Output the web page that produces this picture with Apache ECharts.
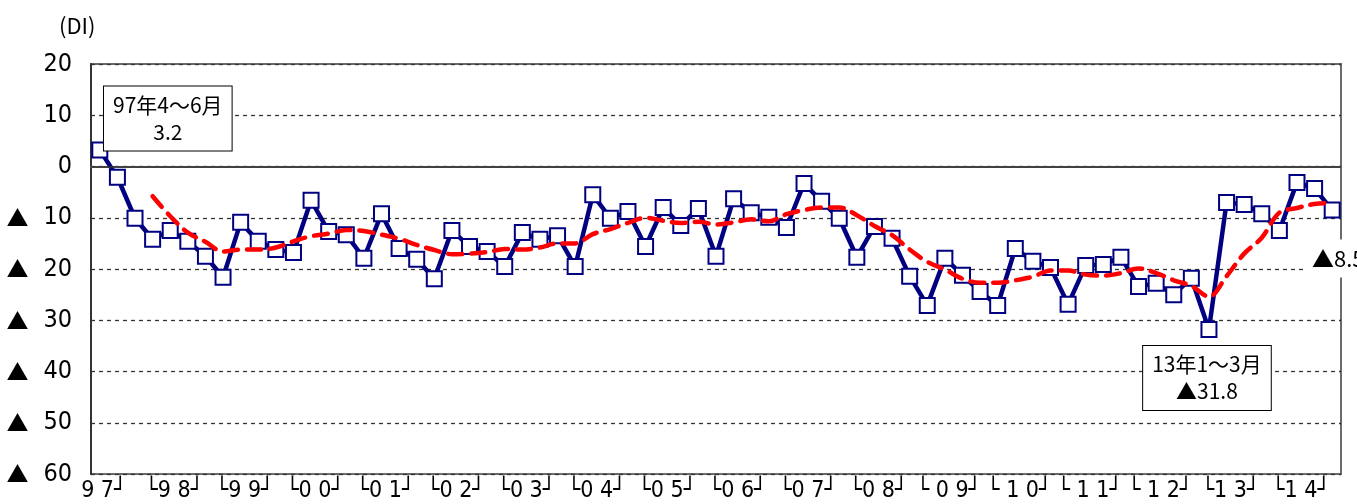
<!DOCTYPE html>
<html>
<head>
<meta charset="utf-8">
<script src="https://cdn.jsdelivr.net/npm/echarts@6/dist/echarts.min.js"></script>
<style>
  html, body { margin: 0; padding: 0; background: #fff; }
  #chart { width: 1357px; height: 504px; }
</style>
</head>
<body>
<div id="chart"></div>
<script>
// years on the axis, 97 starts at Apr-Jun
var years = ['97', '98', '99', '00', '01', '02', '03', '04', '05', '06', '07', '08', '09', '10', '11', '12', '13', '14'];
var yearLabels = ['9 7┘', '└9 8┘', '└9 9┘', '└0 0┘', '└0 1┘', '└0 2┘', '└0 3┘', '└0 4┘', '└0 5┘',
  '└0 6┘', '└0 7┘', '└0 8┘', '└ 0 9┘', '└ 1 0┘', '└ 1 1┘', '└ 1 2┘', '└1 3┘', '└1 4┘'];

// quarterly DI
var diValues = [
  3.2, -2.1, -10.1, -14.2, -12.5, -14.6, -17.5, -21.6, -10.9, -14.6,
  -16.2, -16.8, -6.6, -12.7, -13.3, -17.9, -9.2, -16.0, -18.1, -21.9,
  -12.5, -15.6, -16.6, -19.5, -12.9, -14.2, -13.5, -19.5, -5.5, -10.1,
  -8.8, -15.6, -8.0, -11.5, -8.2, -17.5, -6.3, -9.0, -9.9, -11.9,
  -3.3, -6.8, -10.1, -17.7, -11.7, -14.0, -21.4, -27.1, -17.9, -21.2,
  -24.4, -27.1, -16.0, -18.5, -19.7, -26.9, -19.3, -19.1, -17.7, -23.4,
  -22.8, -25.0, -21.8, -31.8, -7.0, -7.4, -9.2, -12.5, -3.1, -4.3,
  -8.5
];
// 4-quarter moving average (red dashed)
var maValues = [
  null, null, null, -5.8, -9.7, -12.9, -14.7, -16.6, -16.2, -16.2,
  -15.8, -14.6, -13.6, -13.1, -12.4, -12.6, -13.3, -14.1, -15.3, -16.3,
  -17.1, -17.0, -16.7, -16.1, -16.2, -15.8, -15.0, -15.0, -13.2, -12.2,
  -11.0, -10.0, -10.6, -11.0, -10.8, -11.3, -10.9, -10.3, -10.7, -9.3,
  -8.5, -8.0, -8.0, -9.5, -11.6, -13.4, -16.2, -18.6, -20.1, -21.9,
  -22.7, -22.7, -22.2, -21.5, -20.3, -20.3, -21.1, -21.3, -20.8, -19.9,
  -20.8, -22.2, -23.3, -25.4, -21.4, -17.0, -13.9, -9.0, -8.1, -7.3,
  -7.1
];

var startNote = '97年4～6月\n3.2';
var lowNote = '13年1～3月\n▲31.8';
var lastNote = '▲8.5';

var numFont = "'Liberation Sans Narrow', 'DejaVu Sans Condensed', 'Noto Sans CJK JP', sans-serif";
var jpFont = "'Liberation Sans Narrow', 'Noto Sans CJK JP', sans-serif";

var categories = [];
var labelAt = {};
years.forEach(function (y, k) {
  var q0 = k === 0 ? 2 : 1;
  for (var q = q0; q <= 4; q++) {
    if (q === 2) labelAt[categories.length] = yearLabels[k];
    categories.push(y + '/' + q);
  }
});

var noteBox = {
  show: true,
  backgroundColor: '#fff',
  borderColor: '#000',
  borderWidth: 1,
  padding: [5, 9],
  color: '#000',
  fontFamily: jpFont,
  fontSize: 21,
  lineHeight: 27,
  align: 'center'
};

var diData = diValues.map(function (v, i) {
  if (i === 0) {
    return { value: v, label: Object.assign({}, noteBox, { formatter: startNote, position: 'top', offset: [68, 14] }) };
  }
  if (v === Math.min.apply(null, diValues)) {
    return { value: v, label: Object.assign({}, noteBox, { formatter: lowNote, position: 'bottom', offset: [-2, 3] }) };
  }
  if (i === diValues.length - 1) {
    return {
      value: v,
      label: {
        show: true, formatter: lastNote, position: 'bottom', offset: [6, 16],
        backgroundColor: '#fff', padding: [8, 6], color: '#000',
        fontFamily: jpFont, fontSize: 22
      }
    };
  }
  return v;
});

var chart = echarts.init(document.getElementById('chart'));
var option = {
  animation: false,
  title: {
    text: '(DI)', left: 54, top: 10,
    textStyle: { fontFamily: "'Noto Sans CJK JP', sans-serif", fontSize: 22, fontWeight: 'normal', color: '#000' }
  },
  grid: {
    left: 91, right: 16, top: 64, bottom: 30,
    show: true, borderColor: '#6b6b6b', borderWidth: 2,
    outerBoundsMode: 'none'
  },
  xAxis: {
    type: 'category',
    data: categories,
    boundaryGap: true,
    axisLine: { lineStyle: { color: '#6b6b6b', width: 2 } },
    axisTick: { show: false },
    axisLabel: {
      interval: 0,
      margin: 6,
      color: '#000',
      fontFamily: numFont,
      fontSize: 23,
      padding: [0, 0, 0, 8],
      formatter: function (val, idx) { return labelAt[idx] || ''; }
    },
    splitLine: { show: false }
  },
  yAxis: {
    type: 'value',
    min: -60, max: 20, interval: 10,
    axisLine: { show: true, lineStyle: { color: '#333', width: 2 } },
    axisTick: { show: false },
    axisLabel: {
      margin: 19,
      formatter: function (v) {
        if (v < 0) return '{t|▲}{n|' + Math.abs(v) + '}';
        return '{n|' + v + '}';
      },
      rich: {
        t: { width: 37, align: 'left', fontFamily: "'Noto Sans CJK JP', sans-serif", fontSize: 22, color: '#000' },
        n: { fontFamily: numFont, fontSize: 25, color: '#000' }
      }
    },
    splitLine: { show: true, lineStyle: { color: '#333', width: 1.3, type: [4, 4] } }
  },
  series: [
    {
      name: 'DI',
      type: 'line',
      data: diData,
      z: 3,
      symbol: 'rect',
      symbolSize: 15,
      lineStyle: { color: '#000080', width: 4.5 },
      itemStyle: { color: '#fff', borderColor: '#000080', borderWidth: 2 },
      markLine: {
        silent: true,
        symbol: 'none',
        label: { show: false },
        lineStyle: { color: '#333', width: 1.5, type: 'solid' },
        data: [{ yAxis: 0 }]
      }
    },
    {
      name: '移動平均',
      type: 'line',
      data: maValues,
      z: 4,
      smooth: 0.35,
      showSymbol: false,
      symbol: 'none',
      lineStyle: { color: '#ff0000', width: 4.5, type: [14, 9], cap: 'round' }
    }
  ]
};
chart.setOption(option);
</script>
</body>
</html>
